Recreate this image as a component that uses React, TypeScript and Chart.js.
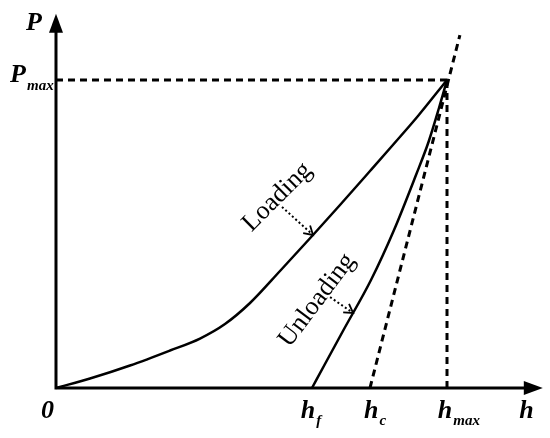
import React, { useEffect, useRef } from "react";
import { Chart, registerables } from "chart.js";

Chart.register(...registerables);

// Normalised units: h / h_max and P / P_max
const loadingH = [0, 0.087, 0.1893, 0.2916, 0.3683, 0.4322, 0.4962, 0.5729, 0.6573, 0.7263, 0.8031, 0.8593, 0.9258, 1];
const loadingP = [0, 0.0308, 0.0731, 0.1218, 0.1607, 0.2078, 0.276, 0.3799, 0.4968, 0.5942, 0.7045, 0.7857, 0.8831, 1];
const unloadingH = [0.6547, 0.6893, 0.7353, 0.8056, 0.8645, 0.9207, 0.9527, 0.9795, 1];
const unloadingP = [0, 0.0812, 0.1883, 0.3506, 0.513, 0.6916, 0.7987, 0.9091, 1];
const hf = 0.6547;
const hc = 0.803;
const hmax = 1;
const pmax = 1;
const tangentTop = { h: 1.033, p: 1.146 };
const axisXEnd = 1.245;
const axisYEnd = 1.215;

const xMin = -0.1432;
const xMax = 1.2634;
const yMin = -0.1623;
const yMax = 1.2597;

const tickLabels = [
  { main: "0", sub: "", h: -0.022 },
  { main: "h", sub: "f", h: hf - 0.01 },
  { main: "h", sub: "c", h: hc + 0.003 },
  { main: "h", sub: "max", h: hmax - 0.005 },
  { main: "h", sub: "", h: 1.203 },
];
const curveLabels = [
  { text: "Loading", h: 0.566, p: 0.62, angle: -45 },
  { text: "Unloading", h: 0.668, p: 0.285, angle: -53 },
];
const pointerArrows = [
  { from: { h: 0.578, p: 0.5877 }, to: { h: 0.6573, p: 0.4968 } },
  { from: { h: 0.701, p: 0.295 }, to: { h: 0.76, p: 0.2435 } },
];

const serif = "'Liberation Serif', 'Times New Roman', serif";

const decorations = {
  id: "decorations",
  afterDatasetsDraw(chart: any) {
    const ctx = chart.ctx;
    const xs = chart.scales.x;
    const ys = chart.scales.y;
    const px = (h: number) => xs.getPixelForValue(h);
    const py = (p: number) => ys.getPixelForValue(p);
    ctx.save();
    ctx.strokeStyle = "#000";
    ctx.fillStyle = "#000";
    // axes
    ctx.lineWidth = 3;
    ctx.setLineDash([]);
    const ox = px(0);
    const oy = py(0);
    const xe = px(axisXEnd);
    const ye = py(axisYEnd);
    ctx.beginPath();
    ctx.moveTo(ox, oy);
    ctx.lineTo(xe - 14, oy);
    ctx.moveTo(ox, oy + 1.5);
    ctx.lineTo(ox, ye + 14);
    ctx.stroke();
    ctx.beginPath();
    ctx.moveTo(xe, oy);
    ctx.lineTo(xe - 19, oy - 7);
    ctx.lineTo(xe - 19, oy + 7);
    ctx.closePath();
    ctx.fill();
    ctx.beginPath();
    ctx.moveTo(ox, ye);
    ctx.lineTo(ox - 7, ye + 19);
    ctx.lineTo(ox + 7, ye + 19);
    ctx.closePath();
    ctx.fill();

    // pointer arrows
    for (const a of pointerArrows) {
      const x1 = px(a.from.h), y1 = py(a.from.p);
      const x2 = px(a.to.h), y2 = py(a.to.p);
      ctx.lineWidth = 2;
      ctx.setLineDash([2, 2.5]);
      ctx.beginPath();
      ctx.moveTo(x1, y1);
      ctx.lineTo(x2, y2);
      ctx.stroke();
      ctx.setLineDash([]);
      const ang = Math.atan2(y2 - y1, x2 - x1);
      ctx.lineWidth = 1.8;
      ctx.beginPath();
      ctx.moveTo(x2 + 10 * Math.cos(ang + 2.6), y2 + 10 * Math.sin(ang + 2.6));
      ctx.lineTo(x2, y2);
      ctx.lineTo(x2 + 10 * Math.cos(ang - 2.6), y2 + 10 * Math.sin(ang - 2.6));
      ctx.stroke();
    }

    // axis titles
    ctx.textBaseline = "alphabetic";
    ctx.font = `italic bold 26px ${serif}`;
    ctx.textAlign = "center";
    ctx.fillText("P", ox - 22, 30);
    ctx.fillText("P", ox - 38, py(pmax) + 2);
    ctx.font = `italic bold 15px ${serif}`;
    ctx.textAlign = "left";
    ctx.fillText("max", ox - 29, py(pmax) + 10);

    for (const t of tickLabels) {
      const x = px(t.h);
      ctx.font = `italic bold 26px ${serif}`;
      ctx.textAlign = "center";
      ctx.fillText(t.main, x, oy + 30);
      if (t.sub) {
        const w = ctx.measureText(t.main).width;
        ctx.font = `italic bold 15px ${serif}`;
        ctx.textAlign = "left";
        ctx.fillText(t.sub, x + w / 2 + 1, oy + 37);
      }
    }

    // curve labels
    ctx.font = `26px ${serif}`;
    ctx.textAlign = "center";
    ctx.textBaseline = "middle";
    for (const l of curveLabels) {
      ctx.save();
      ctx.translate(px(l.h), py(l.p));
      ctx.rotate((l.angle * Math.PI) / 180);
      ctx.fillText(l.text, 0, 0);
      ctx.restore();
    }
    ctx.restore();
  },
};

export default function App() {
  const ref = useRef<HTMLCanvasElement | null>(null);
  useEffect(() => {
    if (!ref.current) return;
    const solid = { borderColor: "#000", borderWidth: 2.5, pointRadius: 0, fill: false };
    const dashed = { borderColor: "#000", borderWidth: 3, pointRadius: 0, fill: false, borderDash: [7, 5] };
    const chart = new Chart(ref.current, {
      type: "line",
      data: {
        datasets: [
          { ...solid, label: "Loading", data: loadingH.map((h, i) => ({ x: h, y: loadingP[i] })), cubicInterpolationMode: "monotone" },
          { ...solid, label: "Unloading", data: unloadingH.map((h, i) => ({ x: h, y: unloadingP[i] })), cubicInterpolationMode: "monotone" },
          { ...dashed, label: "Pmax", data: [{ x: 0, y: pmax }, { x: hmax, y: pmax }] },
          { ...dashed, label: "hmax", data: [{ x: hmax, y: 0 }, { x: hmax, y: pmax }] },
          { ...dashed, label: "tangent", data: [{ x: hc, y: 0 }, { x: tangentTop.h, y: tangentTop.p }] },
        ],
      } as any,
      options: {
        animation: false,
        responsive: false,
        devicePixelRatio: 1,
        layout: { padding: 0 },
        plugins: { legend: { display: false }, tooltip: { enabled: false } },
        scales: {
          x: { type: "linear", min: xMin, max: xMax, display: false },
          y: { type: "linear", min: yMin, max: yMax, display: false },
        },
      } as any,
      plugins: [decorations],
    });
    return () => chart.destroy();
  }, []);
  return (
    <div style={{ position: "fixed", left: 0, top: 0, width: 550, height: 438, background: "#fff" }}>
      <canvas ref={ref} width={550} height={438} style={{ display: "block", width: 550, height: 438 }} />
    </div>
  );
}
